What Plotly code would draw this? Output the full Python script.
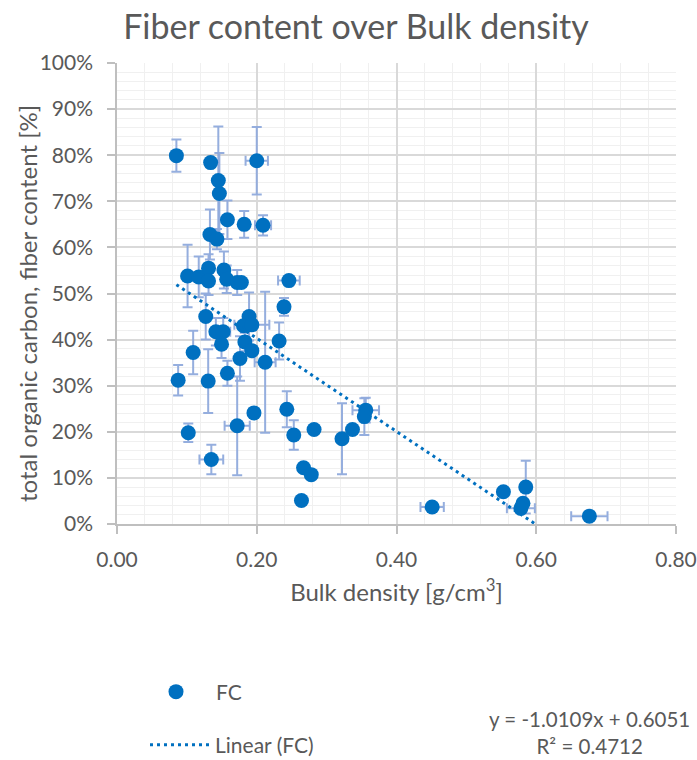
import plotly.graph_objects as go

# Bulk density [g/cm3]
bulk_density = [0.085, 0.134, 0.200, 0.145, 0.1465, 0.158, 0.182, 0.209, 0.133, 0.143,
                0.101, 0.117, 0.131, 0.131, 0.153, 0.157, 0.172, 0.178, 0.246, 0.239,
                0.127, 0.189, 0.181, 0.193, 0.1415, 0.152, 0.1496, 0.183, 0.193, 0.232,
                0.212, 0.176, 0.109, 0.158, 0.0875, 0.1305, 0.243, 0.196, 0.172, 0.253,
                0.102, 0.135, 0.267, 0.278, 0.264, 0.282, 0.322, 0.337, 0.356, 0.354,
                0.451, 0.553, 0.585, 0.581, 0.578, 0.676]
# Fiber content (fraction)
fiber_content = [0.799, 0.784, 0.788, 0.745, 0.717, 0.660, 0.650, 0.648, 0.628, 0.618,
                 0.538, 0.536, 0.555, 0.527, 0.551, 0.531, 0.524, 0.524, 0.528, 0.471,
                 0.450, 0.450, 0.430, 0.432, 0.417, 0.417, 0.390, 0.395, 0.376, 0.397,
                 0.351, 0.359, 0.372, 0.327, 0.312, 0.310, 0.249, 0.241, 0.213, 0.193,
                 0.198, 0.140, 0.122, 0.107, 0.051, 0.205, 0.185, 0.205, 0.247, 0.233,
                 0.037, 0.070, 0.080, 0.045, 0.034, 0.017]
# error (x)
bulk_density_err = [0, 0, 0.016, 0, 0, 0, 0, 0.0115, 0, 0,
                    0, 0, 0, 0, 0, 0, 0, 0, 0.0155, 0,
                    0, 0, 0, 0.025, 0, 0.01, 0, 0, 0, 0,
                    0.015, 0, 0, 0, 0, 0, 0, 0, 0.018, 0,
                    0, 0.017, 0, 0, 0, 0, 0, 0, 0.019, 0,
                    0.0167, 0, 0, 0, 0.02, 0.026]
# error (y)
fiber_content_err = [0.035, 0, 0.073, 0.117, 0.088, 0.042, 0.029, 0.022, 0.054, 0.022,
                     0.068, 0.044, 0.03, 0.03, 0.04, 0.03, 0.027, 0, 0.01, 0.019,
                     0.05, 0.052, 0, 0, 0.03, 0.03, 0.03, 0.02, 0, 0.04,
                     0.153, 0.048, 0.047, 0.027, 0.033, 0.069, 0.039, 0, 0.107, 0.032,
                     0.02, 0.032, 0, 0.01, 0, 0, 0.077, 0, 0.027, 0.04,
                     0, 0, 0.057, 0, 0.01, 0]

# Linear trendline coefficients (as given by the chart label)
trend_slope = -1.0109
trend_intercept = 0.6051
trend_r2 = 0.4712

FONT = "Lato"
TXT = "#595959"
BLUE = "#0070C0"
ERR = "rgba(143,170,220,0.95)"
W, H = 697, 760
L, R, T, B = 117, 21, 63, 236
PW = W - L - R
PH = H - T - B

tx = [min(bulk_density), max(bulk_density)]
ty = [trend_slope * v + trend_intercept for v in tx]

fig = go.Figure()
fig.add_trace(go.Scatter(
    x=bulk_density, y=fiber_content, mode="markers", name="FC",
    marker=dict(color=BLUE, size=15, line=dict(width=0)),
    error_x=dict(type="data", array=bulk_density_err, color=ERR, thickness=2, width=5),
    error_y=dict(type="data", array=fiber_content_err, color=ERR, thickness=2, width=5),
    legend="legend", showlegend=True,
))
fig.add_trace(go.Scatter(
    x=tx, y=ty, mode="lines", name="Linear (FC)",
    line=dict(color=BLUE, width=3, dash="3px,4px"),
    legend="legend2", showlegend=True,
))

axis_common = dict(
    showgrid=True, gridcolor="#D9D9D9", gridwidth=1.5,
    showline=True, linecolor="#BFBFBF", linewidth=1.5,
    ticks="outside", ticklen=8, tickcolor="#BFBFBF", tickwidth=1.5,
    zeroline=False, automargin=False,
    tickfont=dict(size=21, color=TXT, family=FONT),
)

fig.update_layout(
    width=W, height=H,
    margin=dict(l=L, r=R, t=T, b=B, autoexpand=False),
    paper_bgcolor="white", plot_bgcolor="white",
    font=dict(family=FONT, color=TXT, size=21),
    showlegend=True,
    title=dict(text="Fiber content over Bulk density", x=356 / W, xref="container",
               xanchor="center", y=1 - 27 / H, yref="container", yanchor="middle",
               font=dict(size=34, color=TXT, family=FONT)),
    xaxis=dict(range=[0, 0.8], dtick=0.2, tick0=0, tickformat=".2f",
               minor=dict(dtick=0.04, showgrid=True, gridcolor="#F0F0F0", gridwidth=1),
               ticklabelstandoff=8,
               title=dict(text="Bulk density [g/cm<sup>3</sup>]",
                          font=dict(size=24, color=TXT, family=FONT), standoff=14),
               **axis_common),
    yaxis=dict(range=[0, 1], dtick=0.1, tick0=0, tickformat=".0%",
               minor=dict(dtick=0.02, showgrid=True, gridcolor="#F0F0F0", gridwidth=1),
               ticklabelstandoff=10,
               **axis_common),
    legend=dict(x=136 / W, y=1 - 692 / H, xref="container", yref="container",
                xanchor="left", yanchor="middle", itemwidth=70,
                font=dict(size=21, color=TXT, family=FONT), bgcolor="rgba(0,0,0,0)"),
    legend2=dict(x=145 / W, y=1 - 745 / H, xref="container", yref="container",
                 xanchor="left", yanchor="middle", itemwidth=60,
                 font=dict(size=21, color=TXT, family=FONT), bgcolor="rgba(0,0,0,0)"),
    annotations=[
        dict(text="total organic carbon, fiber content [%]",
             xref="paper", yref="paper", x=(27 - L) / PW, y=1 - (304 - T) / PH,
             xanchor="center", yanchor="middle", textangle=-90, showarrow=False,
             font=dict(size=24, color=TXT, family=FONT)),
        dict(text=f"y = {trend_slope}x + {trend_intercept}<br>R² = {trend_r2}",
             xref="paper", yref="paper", x=(589 - L) / PW, y=1 - (732 - T) / PH,
             xanchor="center", yanchor="middle", align="center", showarrow=False,
             font=dict(size=20.5, color=TXT, family=FONT)),
    ],
)

fig.write_html("out.html")
